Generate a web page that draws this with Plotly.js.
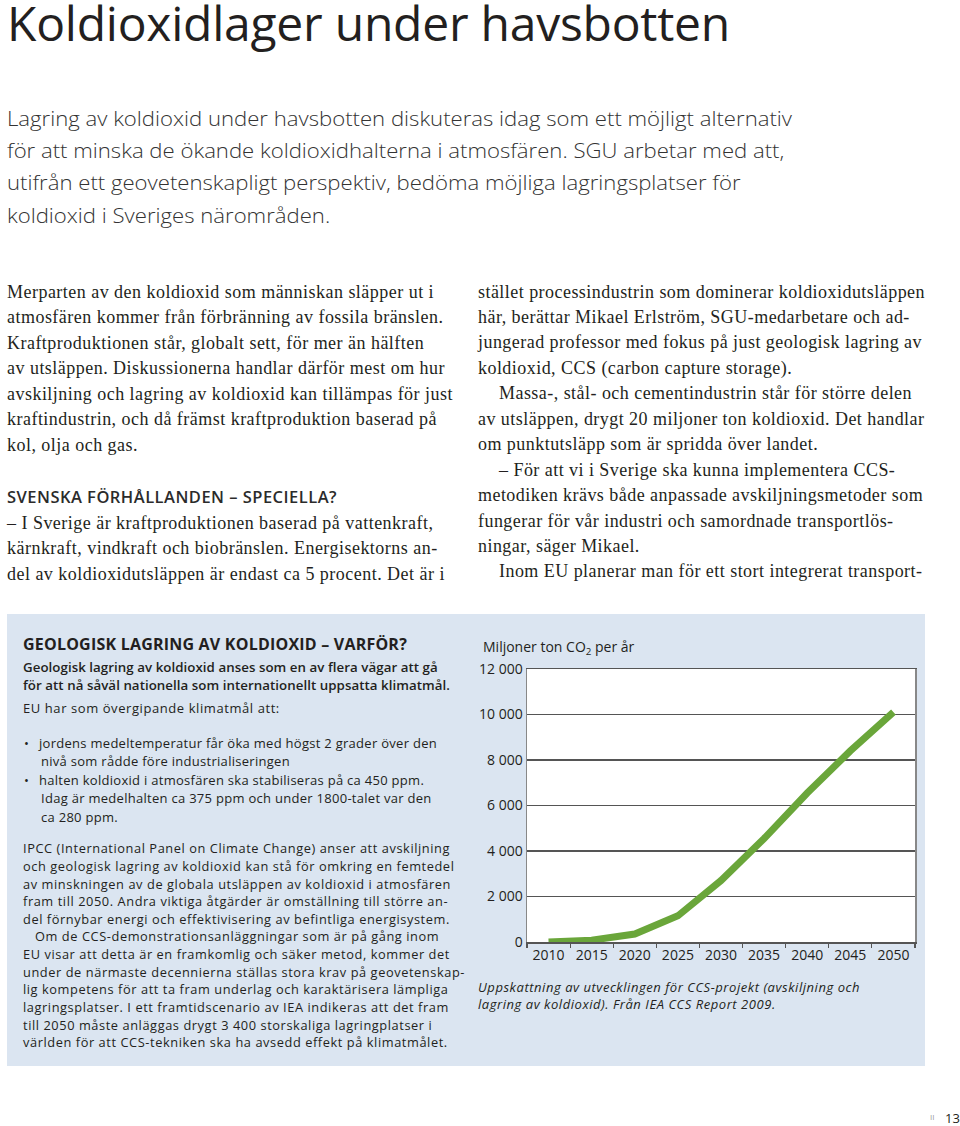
<!DOCTYPE html>
<html lang="sv">
<head>
<meta charset="utf-8">
<script src="https://cdn.plot.ly/plotly-3.0.1.min.js"></script>
<style>
  html,body{margin:0;padding:0;background:#fff;}
  #page{position:relative;width:960px;height:1126px;overflow:hidden;font-family:'Open Sans',sans-serif;color:#231f20;}
  .blk{position:absolute;white-space:nowrap;}
  .blk > div{white-space:nowrap;}
  .serif{font-family:'Liberation Serif','Times New Roman',serif;font-size:18px;line-height:25.5px;color:#231f20;}
  .ind{padding-left:21px;}
  #box{position:absolute;left:7px;top:614px;width:918px;height:452px;background:#dbe5f1;}
  #chart{position:absolute;left:470px;top:630px;width:455px;height:340px;}
  #title span{display:inline-block;line-height:46px;}
</style>
</head>
<body>
<div id="page">
  <div id="box"></div>

  <div class="blk" id="title" style="left:7px;top:0px;font-size:48px;line-height:46px;font-weight:400;color:#231f20;">
    <div><span>Koldioxidlager under havsbotten</span></div>
  </div>

  <div class="blk" id="intro" style="left:7px;top:101.6px;font-size:21px;line-height:32.4px;font-weight:300;color:#333;transform-origin:0 0;">
    <div><span>Lagring av koldioxid under havsbotten diskuteras idag som ett möjligt alternativ</span></div>
    <div><span>för att minska de ökande koldioxidhalterna i atmosfären. SGU arbetar med att,</span></div>
    <div><span>utifrån ett geovetenskapligt perspektiv, bedöma möjliga lagringsplatser för</span></div>
    <div><span>koldioxid i Sveriges närområden.</span></div>
  </div>

  <div class="blk serif" id="leftA" style="left:7px;top:279.5px;">
    <div><span>Merparten av den koldioxid som människan släpper ut i</span></div>
    <div><span>atmosfären kommer från förbränning av fossila bränslen.</span></div>
    <div><span>Kraftproduktionen står, globalt sett, för mer än hälften</span></div>
    <div><span>av utsläppen. Diskussionerna handlar därför mest om hur</span></div>
    <div><span>avskiljning och lagring av koldioxid kan tillämpas för just</span></div>
    <div><span>kraftindustrin, och då främst kraftproduktion baserad på</span></div>
    <div><span>kol, olja och gas.</span></div>
  </div>

  <div class="blk" id="headSv" style="left:7px;top:486.6px;font-size:16.5px;line-height:20px;font-weight:600;color:#2b2b2b;">
    <div><span>SVENSKA FÖRHÅLLANDEN – SPECIELLA?</span></div>
  </div>

  <div class="blk serif" id="leftB" style="left:7px;top:510.7px;">
    <div><span>– I Sverige är kraftproduktionen baserad på vattenkraft,</span></div>
    <div><span>kärnkraft, vindkraft och biobränslen. Energisektorns an-</span></div>
    <div><span>del av koldioxidutsläppen är endast ca 5 procent. Det är i</span></div>
  </div>

  <div class="blk serif" id="right" style="left:478px;top:279.5px;line-height:25.45px;">
    <div><span>stället processindustrin som dominerar koldioxidutsläppen</span></div>
    <div><span>här, berättar Mikael Erlström, SGU-medarbetare och ad-</span></div>
    <div><span>jungerad professor med fokus på just geologisk lagring av</span></div>
    <div><span>koldioxid, CCS (carbon capture storage).</span></div>
    <div class="ind"><span>Massa-, stål- och cementindustrin står för större delen</span></div>
    <div><span>av utsläppen, drygt 20 miljoner ton koldioxid. Det handlar</span></div>
    <div><span>om punktutsläpp som är spridda över landet.</span></div>
    <div class="ind"><span>– För att vi i Sverige ska kunna implementera CCS-</span></div>
    <div><span>metodiken krävs både anpassade avskiljningsmetoder som</span></div>
    <div><span>fungerar för vår industri och samordnade transportlös-</span></div>
    <div><span>ningar, säger Mikael.</span></div>
    <div class="ind"><span>Inom EU planerar man för ett stort integrerat transport-</span></div>
  </div>

  <div class="blk" id="boxHead" style="left:23px;top:633.8px;font-size:16px;line-height:20px;font-weight:700;color:#231f20;">
    <div><span>GEOLOGISK LAGRING AV KOLDIOXID – VARFÖR?</span></div>
  </div>

  <div class="blk" id="boxBold" style="left:23px;top:658.3px;font-size:13.3px;line-height:18px;font-weight:600;">
    <div><span>Geologisk lagring av koldioxid anses som en av flera vägar att gå</span></div>
    <div><span>för att nå såväl nationella som internationellt uppsatta klimatmål.</span></div>
  </div>

  <div class="blk" id="boxEU" style="left:23px;top:698.9px;font-size:13px;line-height:18px;">
    <div><span>EU har som övergipande klimatmål att:</span></div>
  </div>

  <div class="blk" id="bullets" style="left:23px;top:733.7px;font-size:13px;line-height:18.5px;">
    <div style="position:relative;padding-left:16px;"><b style="position:absolute;left:1px;font-weight:400;">•</b><span>jordens medeltemperatur får öka med högst 2 grader över den</span></div>
    <div style="padding-left:18px;"><span>nivå som rådde före industrialiseringen</span></div>
    <div style="position:relative;padding-left:16px;"><b style="position:absolute;left:1px;font-weight:400;">•</b><span>halten koldioxid i atmosfären ska stabiliseras på ca 450 ppm.</span></div>
    <div style="padding-left:18px;"><span>Idag är medelhalten ca 375 ppm och under 1800-talet var den</span></div>
    <div style="padding-left:18px;"><span>ca 280 ppm.</span></div>
  </div>

  <div class="blk" id="para" style="left:23px;top:840.2px;font-size:12.8px;line-height:17.65px;">
    <div><span>IPCC (International Panel on Climate Change) anser att avskiljning</span></div>
    <div><span>och geologisk lagring av koldioxid kan stå för omkring en femtedel</span></div>
    <div><span>av minskningen av de globala utsläppen av koldioxid i atmosfären</span></div>
    <div><span>fram till 2050. Andra viktiga åtgärder är omställning till större an-</span></div>
    <div><span>del förnybar energi och effektivisering av befintliga energisystem.</span></div>
    <div style="padding-left:12px;"><span>Om de CCS-demonstrationsanläggningar som är på gång inom</span></div>
    <div><span>EU visar att detta är en framkomlig och säker metod, kommer det</span></div>
    <div><span>under de närmaste decennierna ställas stora krav på geovetenskap-</span></div>
    <div><span>lig kompetens för att ta fram underlag och karaktärisera lämpliga</span></div>
    <div><span>lagringsplatser. I ett framtidscenario av IEA indikeras att det fram</span></div>
    <div><span>till 2050 måste anläggas drygt 3 400 storskaliga lagringplatser i</span></div>
    <div><span>världen för att CCS-tekniken ska ha avsedd effekt på klimatmålet.</span></div>
  </div>

  <div id="chart"></div>

  <div class="blk" id="caption" style="left:478px;top:979.4px;font-size:13px;line-height:16.5px;font-style:italic;color:#231f20;">
    <div><span>Uppskattning av utvecklingen för CCS-projekt (avskiljning och</span></div>
    <div><span>lagring av koldioxid). Från IEA CCS Report 2009.</span></div>
  </div>

  <div class="blk" style="left:930px;top:1110px;font-size:8px;line-height:14px;color:#9a9a9a;">II</div>
  <div class="blk" style="left:945px;top:1108px;font-size:13px;line-height:20px;color:#231f20;">13</div>
</div>

<script>
// ---- chart data ----
const years = ['2010','2015','2020','2025','2030','2035','2040','2045','2050'];
const ccsVolume = [0, 80, 350, 1150, 2700, 4550, 6550, 8400, 10100];
const yTickVals = [0, 2000, 4000, 6000, 8000, 10000, 12000];
const yTickText = ['0', '2 000', '4 000', '6 000', '8 000', '10 000', '12 000'];
const yAxisLabel = 'Miljoner ton CO<sub>2</sub> per år';

const trace = {
  x: years, y: ccsVolume, type: 'scatter', mode: 'lines',
  line: {color: '#6aa63a', width: 7},
  hoverinfo: 'skip'
};

const layout = {
  width: 455, height: 340,
  margin: {l: 57, r: 10, t: 39, b: 28, pad: 0},
  paper_bgcolor: 'rgba(0,0,0,0)',
  plot_bgcolor: '#ffffff',
  font: {family: 'Open Sans, sans-serif', size: 14, color: '#231f20'},
  showlegend: false,
  xaxis: {
    type: 'category', range: [-0.5, years.length - 0.5],
    tickson: 'boundaries', ticks: 'outside', ticklen: 4,
    tickwidth: 1.2, tickcolor: '#555', showline: true, linecolor: '#555',
    linewidth: 1.5, mirror: true, showgrid: false, zeroline: false,
    tickfont: {size: 14, color: '#231f20'}, fixedrange: true
  },
  yaxis: {
    range: [0, 12000], tickvals: yTickVals, ticktext: yTickText,
    showgrid: true, gridcolor: '#555', gridwidth: 1.2,
    showline: true, mirror: true, linecolor: '#888', linewidth: 1.5,
    zeroline: false, ticks: '', tickfont: {size: 14, color: '#231f20'},
    fixedrange: true
  },
  annotations: [{
    xref: 'paper', yref: 'paper', x: -0.1186, y: 1.077,
    xanchor: 'left', yanchor: 'middle', showarrow: false,
    text: yAxisLabel, font: {size: 14, color: '#231f20'}
  }]
};

Plotly.newPlot('chart', [trace], layout, {displayModeBar: false, staticPlot: true});

// ---- text fitting (letter-spacing / horizontal scale to match line widths) ----
function lineSpan(id, idx) {
  return document.querySelectorAll('#' + id + ' > div > span')[idx];
}
function fitLS(id, idx, target, also) {
  const el = document.getElementById(id);
  el.style.letterSpacing = '0px';
  const sp = lineSpan(id, idx);
  const w = sp.getBoundingClientRect().width;
  const n = sp.textContent.length;
  let ls = (target - w) / n;
  ls = Math.max(-1.2, Math.min(1.5, ls));
  el.style.letterSpacing = ls + 'px';
  (also || []).forEach(function (o) { document.getElementById(o).style.letterSpacing = ls + 'px'; });
}
function fitScale(id, idx, target) {
  const el = document.getElementById(id);
  el.style.transform = 'none';
  const w = lineSpan(id, idx).getBoundingClientRect().width;
  el.style.transform = 'scaleX(' + (target / w) + ')';
}
function fitAll() {
  fitLS('title', 0, 723);
  fitScale('intro', 0, 785);
  fitLS('leftA', 3, 438, ['leftB']);
  fitLS('right', 0, 447);
  fitLS('headSv', 0, 330);
  fitLS('boxHead', 0, 384);
  fitLS('boxBold', 1, 427);
  fitLS('para', 0, 427, ['boxEU']);
  fitLS('bullets', 0, 398);
  fitLS('caption', 0, 382);
}
if (document.fonts && document.fonts.ready) {
  document.fonts.ready.then(fitAll);
} else {
  fitAll();
}
</script>
</body>
</html>
